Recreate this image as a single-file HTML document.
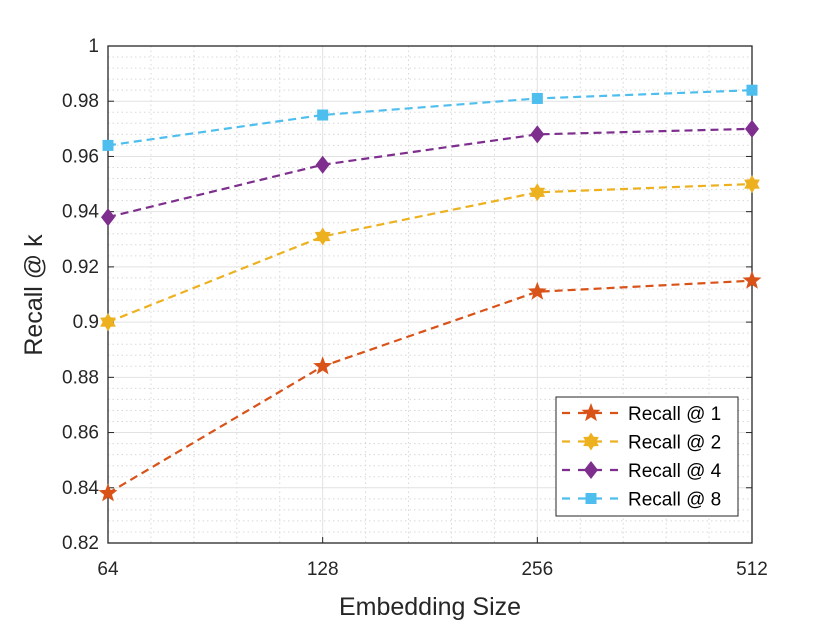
<!DOCTYPE html>
<html><head><meta charset="utf-8"><style>
html,body{margin:0;padding:0;background:#fff;}
svg{display:block;font-family:"Liberation Sans",sans-serif;}
</style></head><body>
<svg id="chart" width="830" height="623" viewBox="0 0 830 623">
<g id="grid"></g>
<g id="axes"></g>
<g id="series"></g>
<text x="430" y="615" font-size="25" text-anchor="middle" fill="#262626">Embedding Size</text>
<text transform="translate(42,295) rotate(-90)" font-size="25" text-anchor="middle" fill="#262626">Recall @ k</text>
<g id="legend"></g>
</svg>
<script>
const categories = [64, 128, 256, 512];
const recall1 = [0.838, 0.884, 0.911, 0.915];
const recall2 = [0.900, 0.931, 0.947, 0.950];
const recall4 = [0.938, 0.957, 0.968, 0.970];
const recall8 = [0.964, 0.975, 0.981, 0.984];
const yTicks = [0.82,0.84,0.86,0.88,0.9,0.92,0.94,0.96,0.98,1];
const yTickLabels = ["0.82","0.84","0.86","0.88","0.9","0.92","0.94","0.96","0.98","1"];
const seriesNames = ["Recall @ 1","Recall @ 2","Recall @ 4","Recall @ 8"];

const L=108,R=752,T=46,B=543;
const NS="http://www.w3.org/2000/svg";
function x(v){return L+(Math.log2(v)-Math.log2(64))/(Math.log2(512)-Math.log2(64))*(R-L);}
function y(v){return B-(v-0.82)/(1-0.82)*(B-T);}
function mk(tag,attrs,parent){const e=document.createElementNS(NS,tag);for(const k in attrs)e.setAttribute(k,attrs[k]);parent.appendChild(e);return e;}
const grid=document.getElementById('grid'),axes=document.getElementById('axes'),ser=document.getElementById('series'),leg=document.getElementById('legend');
// minor grid
for(let i=0;i<categories.length-1;i++){const a=x(categories[i]),b=x(categories[i+1]);for(let k=1;k<5;k++){const xx=a+(b-a)*k/5;
const l=mk('line',{x1:xx,x2:xx,y1:T,y2:B,stroke:'#d8d8d8','stroke-width':1,'stroke-dasharray':'1.5,3'},grid);

}}
for(let i=0;i<yTicks.length-1;i++){for(let k=1;k<5;k++){const yy=y(yTicks[i]+0.004*k);
const l=mk('line',{x1:L,x2:R,y1:yy,y2:yy,stroke:'#d8d8d8','stroke-width':1,'stroke-dasharray':'1.5,3'},grid);

}}
// major grid & ticks
categories.forEach(c=>{const xx=x(c);
const l=mk('line',{x1:xx,x2:xx,y1:T,y2:B,stroke:'#e2e2e2','stroke-width':1},grid);


mk('line',{x1:xx,x2:xx,y1:B,y2:B-6,stroke:'#262626'},axes);
const t=mk('text',{x:xx,y:B+32,'font-size':19,'text-anchor':'middle',fill:'#262626'},axes);t.textContent=c;

});
yTicks.forEach((v,i)=>{const yy=y(v);
const l=mk('line',{x1:L,x2:R,y1:yy,y2:yy,stroke:'#e2e2e2','stroke-width':1},grid);


mk('line',{x1:L,x2:L+6,y1:yy,y2:yy,stroke:'#262626'},axes);
mk('line',{x1:R,x2:R-6,y1:yy,y2:yy,stroke:'#262626'},axes);
const t=mk('text',{x:L-9,y:yy+6,'font-size':19,'text-anchor':'end',fill:'#262626'},axes);t.textContent=yTickLabels[i];

});
const box=mk('rect',{x:L,y:T,width:R-L,height:B-T,fill:'none',stroke:'#262626','stroke-width':1.3},axes);


// markers
function star(cx,cy,r,n,inner){let p=[];for(let i=0;i<2*n;i++){const rr=i%2?r*inner:r;const a=-Math.PI/2+i*Math.PI/n;p.push((cx+rr*Math.cos(a)).toFixed(1)+','+(cy+rr*Math.sin(a)).toFixed(1));}return p.join(' ');}
function marker(type,cx,cy,col,parent){
if(type==='star')return mk('polygon',{points:star(cx,cy,10,5,0.42),fill:col},parent);
if(type==='hex')return mk('polygon',{points:star(cx,cy,9,6,0.6),fill:col},parent);
if(type==='diamond')return mk('polygon',{points:`${cx},${cy-9} ${cx+7},${cy} ${cx},${cy+9} ${cx-7},${cy}`,fill:col},parent);
return mk('rect',{x:cx-5.5,y:cy-5.5,width:11,height:11,fill:col},parent);}
const data=[recall1,recall2,recall4,recall8];
const cols=['#D95319','#EDB120','#7E2F8E','#4DBEEE'];
const mtypes=['star','hex','diamond','square'];
const sNames=['recall-at-1','recall-at-2','recall-at-4','recall-at-8'];
data.forEach((vals,si)=>{
const g=mk('g',{},ser);


const pts=vals.map((v,i)=>x(categories[i])+','+y(v)).join(' ');
const pl=mk('polyline',{points:pts,fill:'none',stroke:cols[si],'stroke-width':2.2,'stroke-dasharray':'8,5'},g);


vals.forEach((v,i)=>{const m=marker(mtypes[si],x(categories[i]),y(v),cols[si],g);

});
});
// legend
const lb=mk('rect',{x:556,y:397,width:182,height:119,fill:'#fff',stroke:'#262626','stroke-width':1},leg);


seriesNames.forEach((n,i)=>{const yy=413+i*28.5;
const g=mk('g',{},leg);


mk('line',{x1:562,x2:620,y1:yy,y2:yy,stroke:cols[i],'stroke-width':2.2,'stroke-dasharray':'8,8'},g);
marker(mtypes[i],591,yy,cols[i],g);
const t=mk('text',{x:628,y:yy+7,'font-size':19,fill:'#000'},g);t.textContent=n;});
</script>
</body></html>
